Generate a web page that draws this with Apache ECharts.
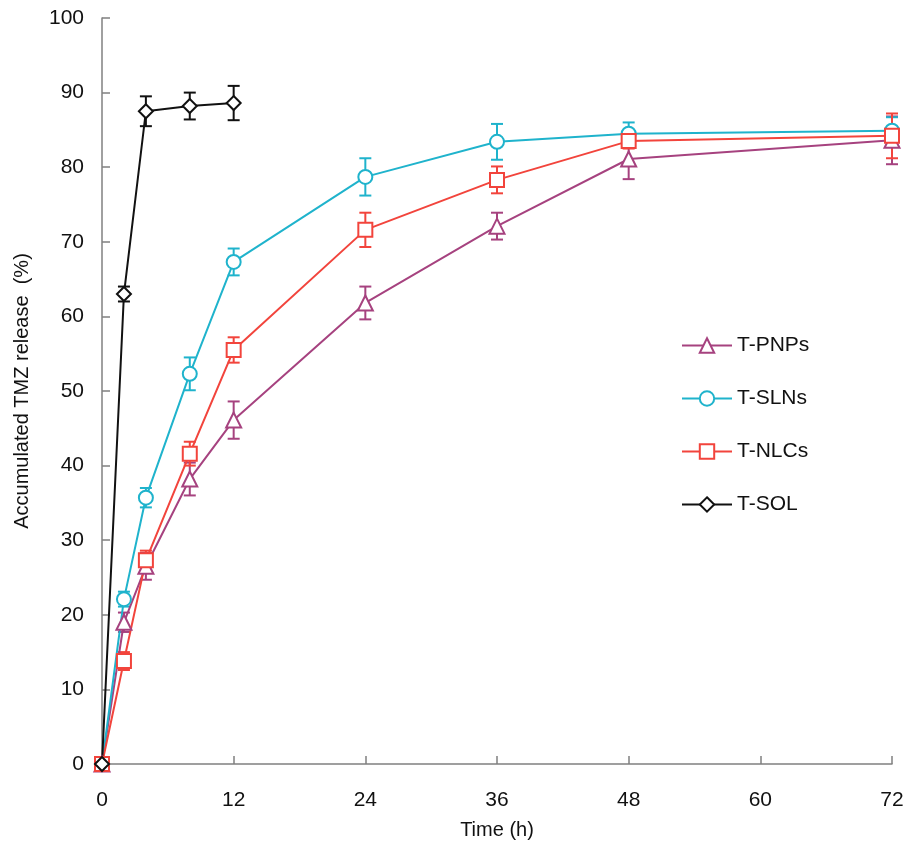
<!DOCTYPE html>
<html>
<head>
<meta charset="utf-8">
<script src="https://cdn.jsdelivr.net/npm/echarts@6/dist/echarts.min.js"></script>
<style>
  html, body { margin: 0; padding: 0; background: #fff; }
  #chart { width: 920px; height: 848px; }
</style>
</head>
<body>
<div id="chart"></div>
<script>
var times = [0, 2, 4, 8, 12, 24, 36, 48, 72]
var solTimes = [0, 2, 4, 8, 12]

var pnps = [0, 19.0, 26.5, 38.2, 46.1, 61.8, 72.1, 81.1, 83.6]
var pnpsErr = [0, 1.3, 1.8, 2.2, 2.5, 2.2, 1.8, 2.7, 3.2]

var slns = [0, 22.1, 35.7, 52.3, 67.3, 78.7, 83.4, 84.5, 84.9]
var slnsErr = [0, 1.0, 1.3, 2.2, 1.8, 2.5, 2.4, 1.5, 1.8]

var nlcs = [0, 13.8, 27.3, 41.6, 55.5, 71.6, 78.3, 83.5, 84.2]
var nlcsErr = [0, 1.2, 1.3, 1.6, 1.7, 2.3, 1.8, 1.0, 3.0]

var sol = [0, 63.0, 87.5, 88.2, 88.6]
var solErr = [0, 1.0, 2.0, 1.8, 2.3]

var names = ['T-PNPs', 'T-SLNs', 'T-NLCs', 'T-SOL']
var colors = ['#a6427f', '#1fb3cc', '#f2443c', '#111111']
var symbols = ['emptyTriangle', 'emptyCircle', 'emptyRect', 'emptyDiamond']

function pairs(xs, ys) {
  return xs.map(function (x, i) { return [x, ys[i]] })
}

function errData(xs, ys, es) {
  return xs.map(function (x, i) { return [x, ys[i] - es[i], ys[i] + es[i]] })
}

function errSeries(data, color) {
  return {
    type: 'custom',
    silent: true,
    z: 1,
    data: data,
    encode: { x: 0, y: [1, 2] },
    renderItem: function (params, api) {
      var lo = api.coord([api.value(0), api.value(1)])
      var hi = api.coord([api.value(0), api.value(2)])
      var w = 6
      var st = { stroke: color, lineWidth: 2 }
      return {
        type: 'group',
        children: [
          { type: 'line', shape: { x1: hi[0], y1: hi[1], x2: lo[0], y2: lo[1] }, style: st },
          { type: 'line', shape: { x1: hi[0] - w, y1: hi[1], x2: hi[0] + w, y2: hi[1] }, style: st },
          { type: 'line', shape: { x1: lo[0] - w, y1: lo[1], x2: lo[0] + w, y2: lo[1] }, style: st }
        ]
      }
    }
  }
}

function lineSeries(i, data) {
  return {
    name: names[i],
    type: 'line',
    z: 3,
    data: data,
    symbol: symbols[i],
    symbolSize: i === 0 ? 15 : 14,
    showAllSymbol: true,
    lineStyle: { color: colors[i], width: 2 },
    itemStyle: { color: colors[i], borderColor: colors[i], borderWidth: 1.8 },
    emphasis: { disabled: true }
  }
}

var chart = echarts.init(document.getElementById('chart'))
chart.setOption({
  backgroundColor: '#ffffff',
  animation: false,
  color: colors,
  grid: {
    left: 102,
    right: 28,
    top: 18,
    bottom: 84
  },
  legend: {
    data: names,
    orient: 'vertical',
    left: 676,
    top: 330,
    itemWidth: 50,
    itemHeight: 18,
    itemGap: 32,
    textStyle: {
      fontFamily: 'Liberation Sans, Arial, sans-serif',
      fontSize: 21,
      color: '#111111'
    }
  },
  xAxis: {
    type: 'value',
    min: 0,
    max: 72,
    interval: 12,
    name: 'Time (h)',
    nameLocation: 'middle',
    nameGap: 56,
    nameTextStyle: {
      fontFamily: 'Liberation Sans, Arial, sans-serif',
      fontSize: 20,
      color: '#111111'
    },
    axisLine: { lineStyle: { color: '#808080', width: 1.5 } },
    axisTick: { inside: true, length: 8, lineStyle: { color: '#808080', width: 1.5 } },
    axisLabel: {
      margin: 26,
      fontFamily: 'Liberation Sans, Arial, sans-serif',
      fontSize: 21,
      color: '#111111'
    },
    splitLine: { show: false }
  },
  yAxis: {
    type: 'value',
    min: 0,
    max: 100,
    interval: 10,
    name: 'Accumulated TMZ release  (%)',
    nameLocation: 'middle',
    nameGap: 70,
    nameTextStyle: {
      fontFamily: 'Liberation Sans, Arial, sans-serif',
      fontSize: 20,
      color: '#111111'
    },
    axisLine: { show: true, lineStyle: { color: '#808080', width: 1.5 } },
    axisTick: { show: true, inside: true, length: 8, lineStyle: { color: '#808080', width: 1.5 } },
    axisLabel: {
      margin: 18,
      fontFamily: 'Liberation Sans, Arial, sans-serif',
      fontSize: 21,
      color: '#111111'
    },
    splitLine: { show: false }
  },
  series: [
    errSeries(errData(times, pnps, pnpsErr), colors[0]),
    errSeries(errData(times, slns, slnsErr), colors[1]),
    errSeries(errData(times, nlcs, nlcsErr), colors[2]),
    errSeries(errData(solTimes, sol, solErr), colors[3]),
    lineSeries(0, pairs(times, pnps)),
    lineSeries(1, pairs(times, slns)),
    lineSeries(2, pairs(times, nlcs)),
    lineSeries(3, pairs(solTimes, sol))
  ]
})
</script>
</body>
</html>
